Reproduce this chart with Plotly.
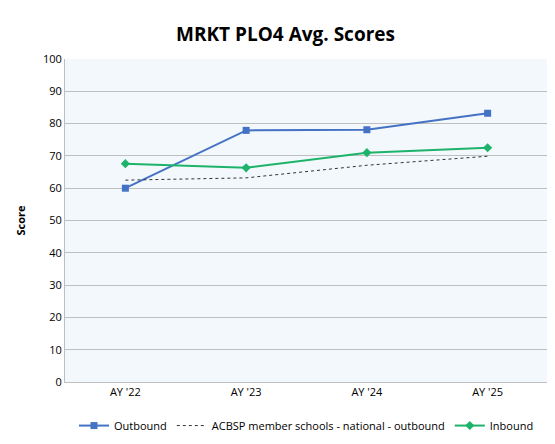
import plotly.graph_objects as go

years = ["AY '22", "AY '23", "AY '24", "AY '25"]
outbound = [60.0, 77.9, 78.1, 83.2]
acbsp = [62.5, 63.2, 67.1, 69.9]
inbound = [67.6, 66.3, 71.0, 72.5]

fig = go.Figure()
fig.add_trace(go.Scatter(x=years, y=outbound, name="Outbound", mode="lines+markers",
                         line=dict(color="#4472C4", width=2),
                         marker=dict(symbol="square", size=7, color="#4472C4")))
fig.add_trace(go.Scatter(x=years, y=acbsp, name="ACBSP member schools - national - outbound",
                         mode="lines", line=dict(color="#333333", width=1, dash="dot")))
fig.add_trace(go.Scatter(x=years, y=inbound, name="Inbound", mode="lines+markers",
                         line=dict(color="#1DB36A", width=2),
                         marker=dict(symbol="diamond", size=7, color="#1DB36A")))

fig.update_layout(
    width=555, height=444,
    title=dict(text="<b>MRKT PLO4 Avg. Scores</b>", x=0.5, y=0.955,
               font=dict(family="Open Sans", size=19, color="black")),
    paper_bgcolor="white", plot_bgcolor="#F2F8FB",
    margin=dict(l=48, r=15, t=51, b=52),
    font=dict(family="Open Sans", size=11, color="black"),
    showlegend=True,
    legend=dict(orientation="h", x=0.5, xanchor="center", y=-0.09, yanchor="top",
                font=dict(size=11)),
    xaxis=dict(showgrid=False, showline=True, linecolor="#BFBFBF", ticks="",
               range=[-0.5, 3.5]),
    yaxis=dict(title=dict(text="<b>Score</b>", font=dict(size=11)), range=[0, 100],
               dtick=10, gridcolor="#BFBFBF", showline=True, linecolor="#BFBFBF",
               zeroline=False),
)

fig.write_html("out.html")
